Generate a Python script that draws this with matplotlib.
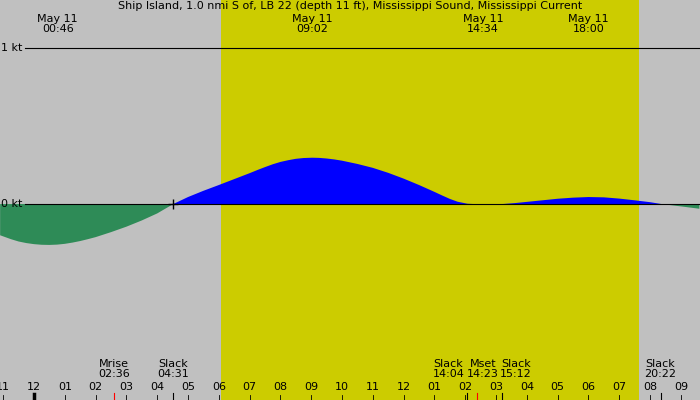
import matplotlib
matplotlib.use("Agg")
import matplotlib.pyplot as plt
import numpy as np

hours = [-1.1,-0.75,-0.5,-0.25,0,0.25,0.5,0.75,1,1.25,1.5,1.75,2,2.5,3,3.5,4,4.52,5,5.5,6,6.5,7,7.25,7.5,7.75,8,8.25,8.5,8.75,9.03,9.25,9.5,9.75,10,10.5,11,11.5,12,12.5,13,13.25,13.5,13.75,14.07,14.5,15.2,15.6,16,16.5,17,17.5,18,18.5,19,19.5,20,20.37,21,21.6]
speed = [-0.20,-0.225,-0.24,-0.25,-0.257,-0.261,-0.262,-0.26,-0.255,-0.247,-0.237,-0.225,-0.212,-0.18,-0.145,-0.105,-0.06,0,0.045,0.085,0.122,0.16,0.198,0.218,0.237,0.255,0.27,0.281,0.29,0.295,0.297,0.296,0.292,0.286,0.278,0.257,0.232,0.2,0.163,0.122,0.078,0.055,0.033,0.015,0.002,-0.002,0.0,0.006,0.014,0.024,0.034,0.041,0.045,0.043,0.035,0.024,0.012,0,-0.015,-0.03]
tick_hours = list(range(-1,22))
tick_labels = ["11","12","01","02","03","04","05","06","07","08","09","10","11","12","01","02","03","04","05","06","07","08","09"]
top_hours = [0.77, 9.03, 14.57, 18.0]
top_labels = ["May 11\n00:46","May 11\n09:02","May 11\n14:34","May 11\n18:00"]
event_hours = [2.6, 4.52, 14.07, 14.38, 15.2, 20.37]
event_text_hours = [2.6, 4.52, 13.45, 14.57, 15.65, 20.33]
event_labels = ["Mrise\n02:36","Slack\n04:31","Slack\n14:04","Mset\n14:23","Slack\n15:12","Slack\n20:22"]
day_start, day_end = 6.07, 19.63

fig = plt.figure(figsize=(7,4), dpi=100)
fig.patch.set_facecolor("#c0c0c0")
ax = fig.add_axes([0,0,1,1])
ax.set_facecolor("#c0c0c0")
x0, x1 = -1.104, 21.62
ax.set_xlim(x0, x1)
ax.set_ylim(-1.256, 1.308)
ax.axvspan(day_start, day_end, color="#cccc00", lw=0)
h = np.array(hours); s = np.array(speed)
ax.fill_between(h, s, 0, where=s<=0, color="#2e8b57", lw=0, interpolate=True)
ax.fill_between(h, s, 0, where=s>=0, color="#0000ff", lw=0, interpolate=True)
ax.axhline(0, color="black", lw=0.8, xmin=0.035)
ax.axhline(1, color="black", lw=0.8, xmin=0.035)
ax.text(x0+0.02, 1.0, "1 kt", va="center", ha="left", fontsize=8)
ax.text(x0+0.02, 0.0, "0 kt", va="center", ha="left", fontsize=8)
ax.plot([4.52],[0],marker="+",color="black",ms=7)
for th, tl in zip(tick_hours, tick_labels):
    ax.text(th, -1.17, tl, ha="center", va="center", fontsize=8)
    ax.plot([th,th],[-1.256,-1.225],color="black",lw=0.6)
ax.plot([0,0],[-1.256,-1.215],color="black",lw=2.5)
for th, tl in zip(top_hours, top_labels):
    ax.text(th, 1.155, tl, ha="center", va="center", fontsize=8, linespacing=1.0)
for eh, et, el in zip(event_hours, event_text_hours, event_labels):
    ax.text(et, -1.055, el, ha="center", va="center", fontsize=8, linespacing=1.0)
    c = "red" if el.startswith("M") else "black"
    ax.plot([eh,eh],[-1.256,-1.21],color=c,lw=0.8)
ax.text((x0+x1)/2, 1.27, "Ship Island, 1.0 nmi S of, LB 22 (depth 11 ft), Mississippi Sound, Mississippi Current",
        ha="center", va="center", fontsize=8)
ax.axis("off")
fig.savefig("out.png", dpi=100, facecolor=fig.get_facecolor())
